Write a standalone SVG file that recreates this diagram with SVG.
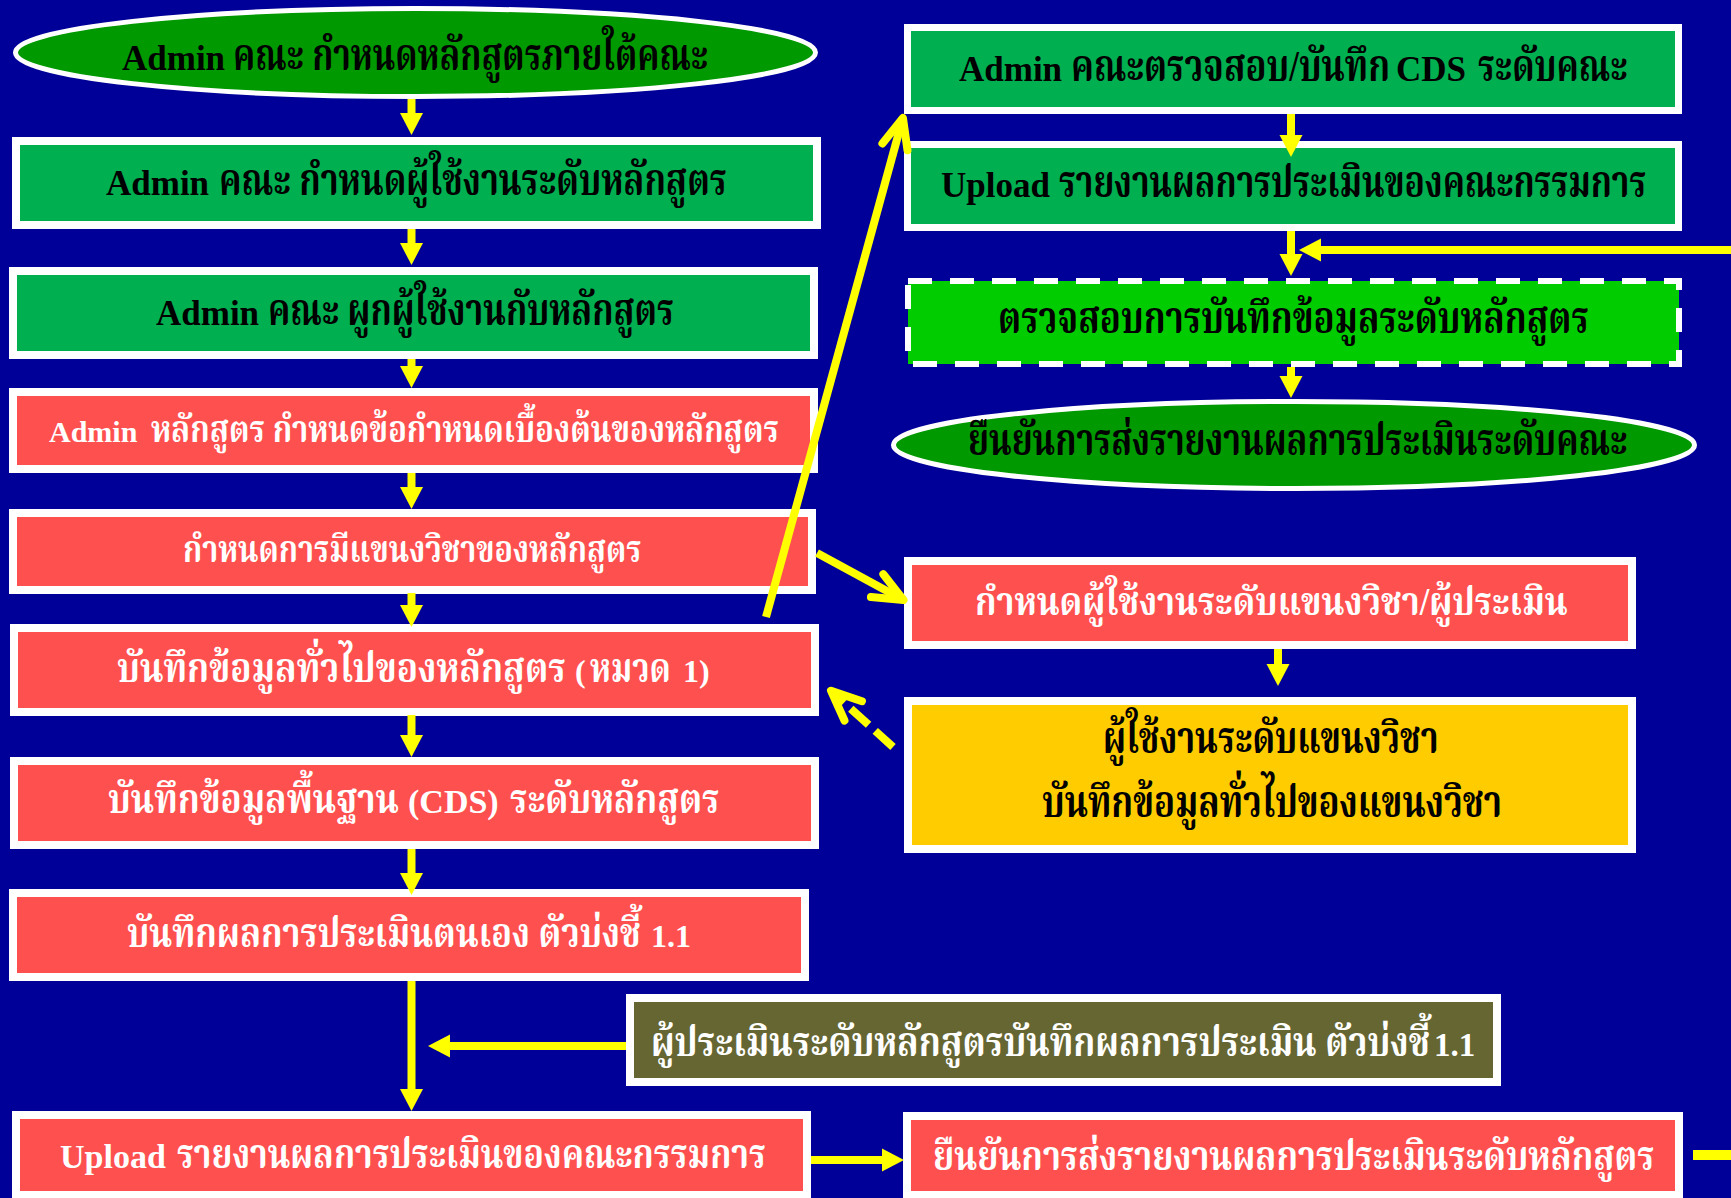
<svg xmlns="http://www.w3.org/2000/svg" width="1731" height="1198" viewBox="0 0 1731 1198">
<style>
  .t { font-family: "Liberation Serif", "Noto Serif Thai", "Noto Sans Thai", serif; font-weight: bold; text-anchor: start; }
  .k { fill: #000000; }
  .w { fill: #ffffff; }
  .bd { stroke: #ffffff; stroke-width: 8; }
  .bd7 { stroke: #ffffff; stroke-width: 7; }
  .el { fill: #009900; stroke: #ffffff; stroke-width: 5; }
  .g { fill: #00AF50; }
  .r { fill: #FF5050; }
  .y { fill: #FFCC00; }
  .o { fill: #666633; }
  .c { fill: none; stroke: #FFFF00; stroke-width: 8; }
</style>
<defs>
  <marker id="ah" markerUnits="userSpaceOnUse" markerWidth="22" markerHeight="24" refX="3" refY="12" orient="auto">
    <path d="M0,0.5 L22,12 L0,23.5 Z" fill="#FFFF00"/>
  </marker>
  <marker id="chev" markerUnits="userSpaceOnUse" markerWidth="1" markerHeight="1" refX="0" refY="0" orient="auto" overflow="visible">
    <path d="M-30,-13 L0,0 L-30,13" fill="none" stroke="#FFFF00" stroke-width="8" stroke-linecap="round" stroke-linejoin="round"/>
  </marker>
</defs>
<rect x="0" y="0" width="1731" height="1198" fill="#000099"/>

<g id="n1">
  <ellipse class="el" cx="415.5" cy="52.5" rx="400" ry="44"/>
  <text class="t k" x="122" y="70" font-size="35">Admin</text>
  <text class="t k" x="233" y="70" font-size="33.6" transform="matrix(1,0,0,1.309,0,-21.63)">คณะ กำหนดหลักสูตรภายใต้คณะ</text>
</g>
<g id="n2">
  <rect class="g bd" x="16" y="141" width="801" height="84"/>
  <text class="t k" x="106" y="195" font-size="35">Admin</text>
  <text class="t k" x="219" y="195" font-size="34.1" transform="matrix(1,0,0,1.291,0,-56.75)">คณะ กำหนดผู้ใช้งานระดับหลักสูตร</text>
</g>
<g id="n3">
  <rect class="g bd" x="13" y="271" width="801" height="84"/>
  <text class="t k" x="156" y="325" font-size="35">Admin</text>
  <text class="t k" x="268" y="325" font-size="33.8" transform="matrix(1,0,0,1.302,0,-98.15)">คณะ ผูกผู้ใช้งานกับหลักสูตร</text>
</g>
<g id="n4">
  <rect class="r bd" x="13" y="392" width="801" height="77"/>
  <text class="t w" x="49" y="442" font-size="30">Admin</text>
  <text class="t w" x="151" y="442" font-size="30.9" transform="matrix(1,0,0,1.197,0,-87.07)">หลักสูตร กำหนดข้อกำหนดเบื้องต้นของหลักสูตร</text>
</g>
<g id="n5">
  <rect class="r bd" x="13" y="513" width="799" height="77"/>
  <text class="t w" x="183" y="562" font-size="30.5" transform="matrix(1,0,0,1.215,0,-120.83)">กำหนดการมีแขนงวิชาของหลักสูตร</text>
</g>
<g id="n6">
  <rect class="r bd" x="14" y="628" width="801" height="84"/>
  <text class="t w" x="117" y="682" font-size="35.1" transform="matrix(1,0,0,1.169,0,-115.26)">บันทึกข้อมูลทั่วไปของหลักสูตร</text>
  <text class="t w" x="575" y="682" font-size="32">(</text>
  <text class="t w" x="590" y="682" font-size="32" transform="matrix(1,0,0,1.281,0,-191.64)">หมวด</text>
  <text class="t w" x="683" y="682" font-size="32">1)</text>
</g>
<g id="n7">
  <rect class="r bd" x="14" y="761" width="801" height="84"/>
  <text class="t w" x="108" y="813" font-size="34.9" transform="matrix(1,0,0,1.174,0,-141.46)">บันทึกข้อมูลพื้นฐาน</text>
  <text class="t w" x="408" y="813" font-size="34">(CDS)</text>
  <text class="t w" x="510" y="813" font-size="34.8" transform="matrix(1,0,0,1.177,0,-143.90)">ระดับหลักสูตร</text>
</g>
<g id="n8">
  <rect class="r bd" x="13" y="893" width="792" height="84"/>
  <text class="t w" x="127" y="947" font-size="34.2" transform="matrix(1,0,0,1.199,0,-188.45)">บันทึกผลการประเมินตนเอง ตัวบ่งชี้</text>
  <text class="t w" x="651" y="947" font-size="32">1.1</text>
</g>
<g id="n9">
  <rect class="r bd" x="16" y="1115" width="791" height="80"/>
  <text class="t w" x="60" y="1168" font-size="34">Upload</text>
  <text class="t w" x="177" y="1168" font-size="33.7" transform="matrix(1,0,0,1.217,0,-253.46)">รายงานผลการประเมินของคณะกรรมการ</text>
</g>
<g id="n10">
  <rect class="o bd" x="630" y="998" width="867" height="84"/>
  <text class="t w" x="651" y="1056" font-size="35" transform="matrix(1,0,0,1.173,0,-182.69)">ผู้ประเมินระดับหลักสูตรบันทึกผลการประเมิน ตัวบ่งชี้</text>
  <text class="t w" x="1434" y="1056" font-size="33">1.1</text>
</g>
<g id="n11">
  <rect class="r bd" x="907" y="1116" width="772" height="79"/>
  <text class="t w" x="933" y="1170" font-size="34.2" transform="matrix(1,0,0,1.199,0,-232.83)">ยืนยันการส่งรายงานผลการประเมินระดับหลักสูตร</text>
</g>
<g id="nA">
  <rect class="g bd7" x="907.5" y="27.5" width="771" height="83"/>
  <text class="t k" x="959" y="81" font-size="35">Admin</text>
  <text class="t k" x="1071" y="81" font-size="34.7" transform="matrix(1,0,0,1.267,0,-21.63)">คณะตรวจสอบ/บันทึก</text>
  <text class="t k" x="1396" y="81" font-size="35">CDS</text>
  <text class="t k" x="1478" y="81" font-size="33.7" transform="matrix(1,0,0,1.307,0,-24.87)">ระดับคณะ</text>
</g>
<g id="nB">
  <rect class="g bd7" x="907.5" y="144.5" width="771" height="83"/>
  <text class="t k" x="941" y="197" font-size="35">Upload</text>
  <text class="t k" x="1059" y="197" font-size="33.6" transform="matrix(1,0,0,1.308,0,-60.68)">รายงานผลการประเมินของคณะกรรมการ</text>
</g>
<g id="nC">
  <rect x="908" y="281" width="771" height="83" fill="#00CC00" stroke="#ffffff" stroke-width="6" stroke-dasharray="24 18"/>
  <text class="t k" x="998" y="333" font-size="34.8" transform="matrix(1,0,0,1.264,0,-87.91)">ตรวจสอบการบันทึกข้อมูลระดับหลักสูตร</text>
</g>
<g id="nD">
  <ellipse class="el" cx="1294" cy="445" rx="400.5" ry="43.5"/>
  <text class="t k" x="968" y="455" font-size="33.8" transform="matrix(1,0,0,1.302,0,-137.41)">ยืนยันการส่งรายงานผลการประเมินระดับคณะ</text>
</g>
<g id="nE">
  <rect class="r bd" x="908" y="561" width="724" height="84"/>
  <text class="t w" x="975" y="615" font-size="34.2" transform="matrix(1,0,0,1.142,0,-87.33)">กำหนดผู้ใช้งานระดับแขนงวิชา/ผู้ประเมิน</text>
</g>
<g id="nF">
  <rect class="y bd" x="908" y="701" width="724" height="148"/>
  <text class="t k" x="1103" y="753" font-size="34" transform="matrix(1,0,0,1.294,0,-221.38)">ผู้ใช้งานระดับแขนงวิชา</text>
  <text class="t k" x="1042" y="817" font-size="34.7" transform="matrix(1,0,0,1.268,0,-218.96)">บันทึกข้อมูลทั่วไปของแขนงวิชา</text>
</g>

<g id="connectors">
  <path class="c" d="M411.5,99 V116" marker-end="url(#ah)"/>
  <path class="c" d="M411.5,229 V246" marker-end="url(#ah)"/>
  <path class="c" d="M411.5,359 V369" marker-end="url(#ah)"/>
  <path class="c" d="M411.5,473 V490" marker-end="url(#ah)"/>
  <path class="c" d="M411.5,593 V608" marker-end="url(#ah)"/>
  <path class="c" d="M411.5,715 V738" marker-end="url(#ah)"/>
  <path class="c" d="M411.5,849 V876" marker-end="url(#ah)"/>
  <path class="c" d="M411.5,981 V1092" marker-end="url(#ah)"/>
  <path class="c" d="M626,1046 H447" marker-end="url(#ah)"/>
  <path class="c" d="M811,1160 H885" marker-end="url(#ah)"/>
  <path d="M1693,1155 H1731" fill="none" stroke="#FFFF00" stroke-width="10"/>
  <path class="c" d="M1291,114 V138" marker-end="url(#ah)"/>
  <path class="c" d="M1291,231 V257" marker-end="url(#ah)"/>
  <path class="c" d="M1291,367 V379" marker-end="url(#ah)"/>
  <path class="c" d="M1731,250 H1318" marker-end="url(#ah)"/>
  <path class="c" d="M1278,649 V667" marker-end="url(#ah)"/>
  <path class="c" d="M766,617 L902.9,117.9" marker-end="url(#chev)"/>
  <path class="c" d="M817,553 L903.5,600" marker-end="url(#chev)"/>
  <path class="c" d="M893,747 L831,690.7" stroke-dasharray="24 9" marker-end="url(#chev)"/>
</g>
</svg>
